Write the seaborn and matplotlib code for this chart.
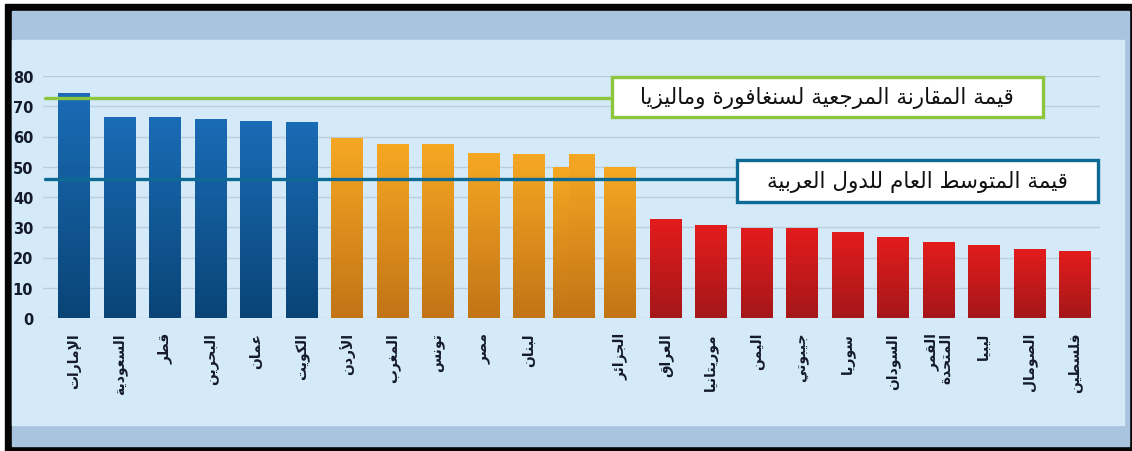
import matplotlib
matplotlib.use("Agg")
import matplotlib.pyplot as plt
import seaborn as sns
import numpy as np
import pandas as pd
from matplotlib.colors import LinearSegmentedColormap
from matplotlib.patches import Rectangle

# data
countries = ["الإمارات", "السعودية", "قطر", "البحرين", "عمان", "الكويت",
             "الأردن", "المغرب", "تونس", "مصر", "لبنان", " ",
             "الجزائر", "العراق", "موريتانيا", "اليمن", "جيبوتي", "سوريا",
             "السودان", "القمر\nالمتحدة", "ليبيا", "الصومال", "فلسطين"]
values = [74.3, 66.4, 66.4, 65.7, 64.8, 64.5,
          59.2, 57.5, 57.2, 54.4, 54.2, None,
          49.7, 32.4, 30.7, 29.5, 29.5, 28.1,
          26.7, 24.9, 24.1, 22.6, 21.9]
groups = ["high"] * 6 + ["mid"] * 7 + ["low"] * 10
# the unlabeled slot holds two odd bars in the original
glitch_values = [49.7, 54.1]

benchmark = 72.7   # Singapore / Malaysia reference
arab_avg = 46.1    # Arab countries average
benchmark_label = "قيمة المقارنة المرجعية لسنغافورة وماليزيا"
avg_label = "قيمة المتوسط العام للدول العربية"

grad_colors = {"high": ("#1a6cb6", "#0a4476"),
               "mid": ("#f6a823", "#c27417"),
               "low": ("#e31c1c", "#a5171a")}

# --- minimal arabic shaping (matplotlib has no complex text layout) ---
DUAL = {'ئ': 0xFE89, 'ب': 0xFE8F, 'ت': 0xFE95, 'ث': 0xFE99, 'ج': 0xFE9D,
        'ح': 0xFEA1, 'خ': 0xFEA5, 'س': 0xFEB1, 'ش': 0xFEB5, 'ص': 0xFEB9,
        'ض': 0xFEBD, 'ط': 0xFEC1, 'ظ': 0xFEC5, 'ع': 0xFEC9, 'غ': 0xFECD,
        'ف': 0xFED1, 'ق': 0xFED5, 'ك': 0xFED9, 'ل': 0xFEDD, 'م': 0xFEE1,
        'ن': 0xFEE5, 'ه': 0xFEE9, 'ي': 0xFEF1}
RIGHT = {'آ': 0xFE81, 'أ': 0xFE83, 'ؤ': 0xFE85, 'إ': 0xFE87, 'ا': 0xFE8D,
         'ة': 0xFE93, 'د': 0xFEA9, 'ذ': 0xFEAB, 'ر': 0xFEAD, 'ز': 0xFEAF,
         'و': 0xFEED, 'ى': 0xFEEF}
LAMALEF = {'آ': 0xFEF5, 'أ': 0xFEF7, 'إ': 0xFEF9, 'ا': 0xFEFB}


def shape_line(s):
    toks = []
    i = 0
    while i < len(s):
        if s[i] == 'ل' and i + 1 < len(s) and s[i + 1] in LAMALEF:
            toks.append(('R', LAMALEF[s[i + 1]]))
            i += 2
            continue
        c = s[i]
        if c in DUAL:
            toks.append(('D', DUAL[c]))
        elif c in RIGHT:
            toks.append(('R', RIGHT[c]))
        else:
            toks.append(('N', c))
        i += 1
    out = []
    for k, (t, base) in enumerate(toks):
        if t == 'N':
            out.append(base)
            continue
        prev_j = k > 0 and toks[k - 1][0] == 'D'
        next_j = t == 'D' and k + 1 < len(toks) and toks[k + 1][0] in 'DR'
        if prev_j and next_j:
            off = 3
        elif prev_j:
            off = 1
        elif next_j:
            off = 2
        else:
            off = 0
        out.append(chr(base + off))
    return ''.join(reversed(out))


def shape(s):
    return '\n'.join(shape_line(l) for l in s.split('\n'))


def fill_gradient(ax, patch, top, bottom):
    x0, y0 = patch.get_x(), patch.get_y()
    w, h = patch.get_width(), patch.get_height()
    cmap = LinearSegmentedColormap.from_list("bar", [bottom, top])
    grad = np.linspace(0, 1, 256).reshape(-1, 1)
    ax.imshow(grad, extent=[x0, x0 + w, y0, y0 + h], origin="lower",
              cmap=cmap, aspect="auto", zorder=2)
    patch.set_alpha(0)


sns.set_style("white")
plt.rcParams['font.family'] = ['DejaVu Sans']

fig = plt.figure(figsize=(11.32, 4.52), dpi=100)
fig.patch.set_facecolor("white")
W, H = 1132, 452


def fig_rect(x0, y0, x1, y1, color):
    fig.patches.append(Rectangle((x0 / W, 1 - y1 / H), (x1 - x0) / W, (y1 - y0) / H,
                                 transform=fig.transFigure, color=color, zorder=-5))


fig_rect(5, 5, 1132, 452, "#050505")
fig_rect(12, 12, 1129, 447, "#a8c4df")
fig_rect(12, 41, 1124, 426, "#d4eaf8")

ax = fig.add_axes([43 / W, 1 - 319 / H, 1057 / W, 242 / H])
ax.set_facecolor("none")

df = pd.DataFrame({"country": countries, "value": values, "group": groups}).dropna()
sns.barplot(data=df, x="country", y="value", hue="group", order=countries,
            palette={g: c[0] for g, c in grad_colors.items()},
            dodge=False, width=0.70, saturation=1, legend=False, ax=ax)

for p in list(ax.patches):
    h = p.get_height()
    if not np.isfinite(h) or h <= 0:
        continue
    idx = int(round(p.get_x() + p.get_width() / 2))
    top, bottom = grad_colors[groups[idx]]
    fill_gradient(ax, p, top, bottom)

gslot = countries.index(" ")
gbars = ax.bar([gslot - 0.31, gslot + 0.15], glitch_values, width=[0.33, 0.55],
               color=grad_colors["mid"][0], zorder=2)
for p in gbars:
    fill_gradient(ax, p, *grad_colors["mid"])

ax.set_xlim(-0.68, 22.55)
ax.set_ylim(0, 80)
ax.set_yticks(range(0, 81, 10))
ax.yaxis.grid(True, color="#bccddb", lw=1.0, zorder=0)
ax.xaxis.grid(False)
ax.set_axisbelow(True)
sns.despine(ax=ax, left=True, bottom=True)
ax.set_xlabel("")
ax.set_ylabel("")

ax.tick_params(axis="y", length=0, pad=7, labelsize=10.5, labelcolor="#141a2a")
for t in ax.get_yticklabels():
    t.set_fontweight("bold")

ax.set_xticks(range(len(countries)))
ax.set_xticklabels([shape(c) for c in countries], rotation=90, va="top", ha="center",
                   multialignment="right", fontsize=10, fontweight="bold",
                   color="#141a2a", linespacing=0.95)
ax.tick_params(axis="x", length=0, pad=10)

# reference lines with their labels
green, teal = "#8cc63f", "#0c6a94"
ax.axhline(benchmark, xmin=0.002, xmax=0.538, color=green, lw=2.4, zorder=4)
ax.axhline(arab_avg, xmin=0.002, xmax=0.657, color=teal, lw=2.4, zorder=4)

ax.add_patch(Rectangle((0.538, 0.831), 0.408, 0.165, transform=ax.transAxes,
                       facecolor="white", edgecolor=green, lw=2.4, zorder=5, clip_on=False))
ax.text(0.538 + 0.408 / 2, 0.831 + 0.165 / 2, shape(benchmark_label), transform=ax.transAxes,
        ha="center", va="center", fontsize=15.5, color="#111", zorder=6)

ax.add_patch(Rectangle((0.657, 0.479), 0.341, 0.174, transform=ax.transAxes,
                       facecolor="white", edgecolor=teal, lw=2.4, zorder=5, clip_on=False))
ax.text(0.657 + 0.341 / 2, 0.479 + 0.174 / 2, shape(avg_label), transform=ax.transAxes,
        ha="center", va="center", fontsize=15.5, color="#111", zorder=6)

fig.savefig("out.png", dpi=100)
